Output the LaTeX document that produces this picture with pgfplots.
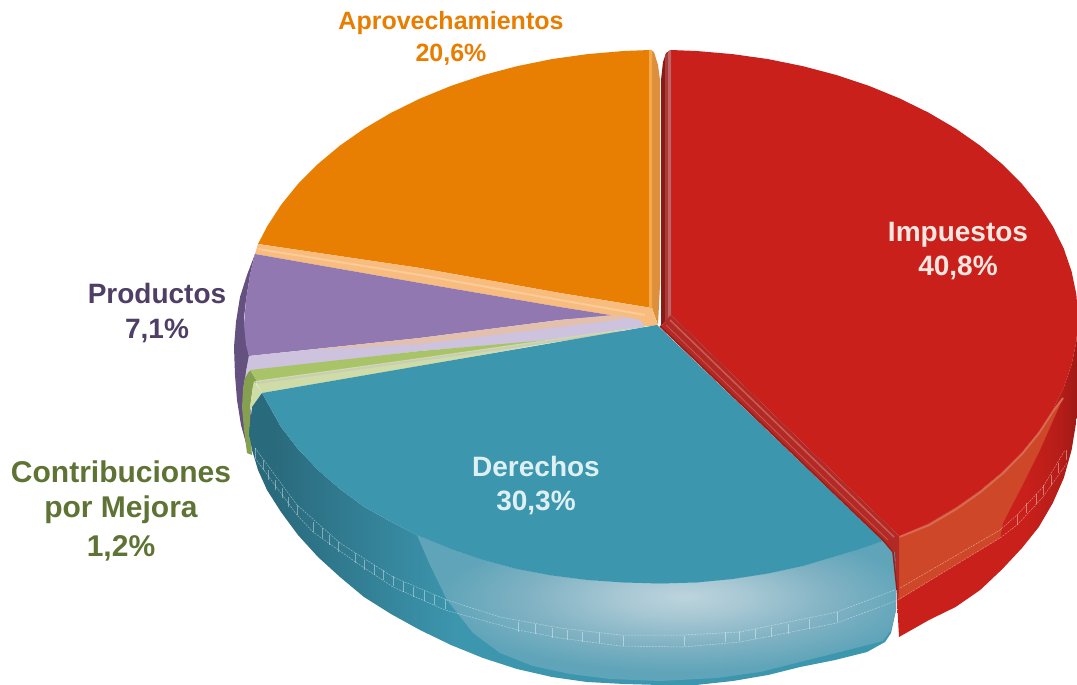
\documentclass[border=0pt]{standalone}
\usepackage{pgfplots}
\pgfplotsset{compat=1.18}
\usepackage{fontspec}
\setmainfont{Liberation Sans}
\definecolor{cRed}{HTML}{CA201B}
\definecolor{cRedSoft}{HTML}{CF4729}
\definecolor{cRedEdge}{HTML}{D86A50}
\definecolor{cRedDark}{HTML}{8A1A16}
\definecolor{cRedMid}{HTML}{A83A38}
\definecolor{cRedLite}{HTML}{C26262}
\definecolor{cRedCut}{HTML}{B22A26}
\definecolor{cRedCutL}{HTML}{CC5A55}
\definecolor{cOrange}{HTML}{E97F02}
\definecolor{cOrangeB}{HTML}{DD8F3C}
\definecolor{cOrangeL}{HTML}{F6A84A}
\definecolor{cPeach}{HTML}{F8BC7F}
\definecolor{cPeachL}{HTML}{FBCB98}
\definecolor{cPeachG}{HTML}{E3C0AE}
\definecolor{cTeal}{HTML}{3C96AE}
\definecolor{cTealD}{HTML}{2A6A7D}
\definecolor{cPurple}{HTML}{9278B0}
\definecolor{cPurpleD}{HTML}{65517F}
\definecolor{cLav}{HTML}{CDC3DF}
\definecolor{cGreen}{HTML}{A9C468}
\definecolor{cGreenD}{HTML}{85A04F}
\definecolor{cGreenP}{HTML}{CFDCA8}
\definecolor{cGray}{HTML}{C9CDB8}
\definecolor{tOrange}{HTML}{E87D00}
\definecolor{tRed}{HTML}{FBE6E0}
\definecolor{tPurple}{HTML}{4F3F66}
\definecolor{tGreen}{HTML}{5F7334}
\definecolor{tTeal}{HTML}{DFF0F5}
\pgfdeclarehorizontalshading{redside}{100bp}{color(0bp)=(cRed); color(60bp)=(cRed); color(70bp)=(cRed!90!black); color(75bp)=(cRed!78!black); color(100bp)=(cRed!78!black)}
\pgfdeclarehorizontalshading{tealside}{100bp}{color(0bp)=(cTealD); color(27bp)=(cTealD); color(41bp)=(cTeal); color(100bp)=(cTeal)}
\definecolor{g0}{HTML}{BDD4DE}
\definecolor{g1}{HTML}{A6C7D3}
\definecolor{g2}{HTML}{80B2C3}
\definecolor{g3}{HTML}{5FA4B9}
\pgfdeclareradialshading{tealglow}{\pgfpoint{3bp}{4bp}}{color(0bp)=(g0); color(7bp)=(g1); color(16bp)=(g2); color(25bp)=(g3); color(100bp)=(g3)}
\newcommand{\lab}[4]{\node[anchor=base,text=#3,font=\bfseries\fontsize{#4}{#4}\selectfont] at (axis cs:#1) {#2};}
\begin{document}
\begin{tikzpicture}
\begin{axis}[
  scale only axis, width=1077pt, height=685pt,
  xmin=0, xmax=1077, ymin=0, ymax=685, y dir=reverse,
  axis lines=none, clip=true]
% --- side walls ---
% red side
\addplot[draw=none, shading=redside] coordinates {(1076.4,294.6)(1078,318)(1076.4,341.4)(1071.6,364.5)(1063.8,387.4)(1052.8,409.7)(1038.8,431.3)(1022,452)(1002.4,471.7)(980.2,490.3)(955.6,507.5)(928.7,523.3)(899,535)(897,600)(899,637)(929,620)(955.6,607)(980.2,590)(1002.4,569)(1022,548)(1038.8,527)(1052.8,503)(1063.8,478)(1071.6,450)(1077,417)(1078,380)};
\addplot[draw=none, fill=cRedSoft] coordinates {(899,535)(928.7,523.3)(955.6,507.5)(980.2,490.3)(1002.4,471.7)(1022,452)(1038.8,431.3)(1052.8,409.7)(1063,398)(1040,450)(1020,490)(1003,523)(1000,538)(960,562)(898,600)};
\addplot[draw=cRedEdge, line width=2pt] coordinates {(899,537)(928.7,525.3)(955.6,509.5)(980.2,492.3)(1002.4,473.7)(1022,454)(1038.8,433.3)(1052.8,411.7)(1063,398)};
% purple side
\addplot[draw=none, fill=cPurpleD] coordinates {(255,254)(247,275)(240,297)(236,322)(234,347)(235,375)(237,400)(241,425)(247,447)(252,440)(250,400)(250,370)(249,356)(246,340)(244,318)(246,300)(250,275)};
\addplot[draw=none, fill=cLav] coordinates {(249,356)(246,372)(243,390)(245,385)(250,372)};
% green side
\addplot[draw=none, fill=cGreenD] coordinates {(250,370)(245,378)(243,390)(242,407)(244,430)(247,453)(252,455)(250,430)(250,407)(253,386)(257,381)};
\addplot[draw=none, fill=cGreenP] coordinates {(254,381)(262,393)(252,407)(250,409)(253,386)};
% teal side
\addplot[draw=none, shading=tealside] coordinates {(262,393)(252,407)(249,433)(252,450)(258,470)(267,490)(281,512)(298,535)(318,557)(340,577)(364,597)(391,614)(420,630)(451,645)(483,658)(517,669)(552,677)(587,682)(624,684)(660,685)(696,685)(733,681)(768,675)(800,667)(835,660)(867,652)(885,642)(891,633)(896,610)(897,575)(895,553)(883,541)(860,549)(836.7,556)(803,566)(768.2,573.5)(732.6,579)(696.4,582.5)(660,583.5)(623.6,582.5)(587.4,580)(551.8,575.5)(517,569)(483.3,560)(451,549)(417,535)(391.3,522)(364.4,507)(340,489)(318,470)(298,449)(281,427)(267,402)};
% highlight on the teal side
\addplot[draw=none, shading=tealglow] coordinates {(417,535)(451,549)(483.3,560)(517,569)(551.8,575.5)(587.4,580)(623.6,582.5)(660,583.5)(696.4,582.5)(732.6,579)(768.2,573.5)(803,566)(836.7,556)(860,549)(883,541)(892,552)(896,575)(896,610)(891,630)(883,641)(840,652)(800,662)(760,672)(717,678)(660,681)(610,679)(570,674)(533,666)(500,653)(473,633)(447,600)(430,565)};
% dashed guide lines on the wall
\addplot[draw=white, draw opacity=.45, line width=.5pt, dash pattern=on 2pt off 1pt] coordinates {(255,448)(297,505)(340,543)(393,577)(447,600)(500,617)(560,628)(620,635)(683,635)(740,632)(837,612)(900,588)(1000,530)(1017,515)(1043,487)(1065,450)};
\addplot[draw=white, draw opacity=.45, line width=.5pt, dash pattern=on 2pt off 1pt] coordinates {(255,458)(297,515)(313,532)(357,563)(393,587)(445,610)(518,630)(560,638)(620,646)(683,647)(740,642)(837,623)(898,600)(1000,538)(1017,525)(1043,497)(1067,463)};
\addplot[only marks, mark=|, mark size=5pt, mark options={draw=white, draw opacity=.4, line width=.5pt}] coordinates {(255,453)(263,465)(268,475)(275,485)(282,493)(288,502)(297,510)(313,527)(322,533)(329,540)(338,547)(355,558)(364,565)(374,570)(383,575)(393,581)(403,587)(413,592)(424,596)(434,600)(445,604)(518,627)(535,629)(552,633)(567,635)(582,637)(599,638)(623,641)(684,641)(725,637)(739,636)(755,634)(771,632)(788,629)(809,624)(837,617)(1017,520)(1026,508)(1036,499)(1043,490)(1051,480)(1058,468)(1066,455)};
% --- top faces ---
% orange
\addplot[draw=none, fill=cOrange] coordinates {(650,50)(623.6,51)(587.4,54.1)(551.8,59.1)(517,66.2)(483.3,75.1)(451,85.9)(420.2,98.5)(391.3,112.7)(364.4,128.5)(339.8,145.7)(317.6,164.3)(298,184)(281.2,204.7)(267.2,226.3)(258,244)(420,268)(560,293)(652,308)};
\addplot[draw=none, fill=cOrangeB] coordinates {(650,50)(654,52)(658,65)(660,80)(660,285)(658,325)(652,308)};
\addplot[draw=none, fill=cOrangeL] coordinates {(649,50)(652,50)(652,308)(649,307)};
\addplot[draw=none, fill=cPeach] coordinates {(258,244)(420,268)(560,293)(652,308)(658,326)(640,326)(610,315)(560,307)(420,283)(255,254)};
\addplot[draw=cPeachL, line width=2pt] coordinates {(258,249)(420,275)(560,300)(645,315)};
% purple
\addplot[draw=none, fill=cPurple] coordinates {(255,254)(250,275)(246,300)(244,325)(246,345)(249,356)(420,338)(560,320)(615,316)(610,315)(560,307)(420,283)};
% lavender
\addplot[draw=none, fill=cLav] coordinates {(249,356)(420,338)(560,320)(615,315)(640,320)(645,327)(560,340)(420,351)(250,371)(246,372)};
\addplot[draw=none, fill=cPeachG] coordinates {(310,350)(420,338)(560,320)(615,315)(625,319)(560,327)(420,344)};
% green
\addplot[draw=none, fill=cGreen] coordinates {(250,370)(420,351)(560,339)(645,326)(420,360)(257,381)};
\addplot[draw=none, fill=cGreenP] coordinates {(255,381)(420,358)(645,326)(420,366)(262,393)};
\addplot[draw=cGray, line width=2pt] coordinates {(257,383)(420,360)(620,332)};
% teal
\addplot[draw=none, fill=cTeal] coordinates {(657,325)(262,393)(267,402)(281,427)(298,449)(318,470)(340,489)(364.4,507)(391.3,522)(417,535)(451,549)(483.3,560)(517,569)(551.8,575.5)(587.4,580)(623.6,582.5)(660,583.5)(696.4,582.5)(732.6,579)(768.2,573.5)(803,566)(836.7,556)(860,549)(883,541)};
% red
\addplot[draw=none, fill=cRed] coordinates {(671,50)(696.4,51)(732.6,54.1)(768.2,59.1)(803,66.2)(836.7,75.1)(869,85.9)(899.8,98.5)(928.7,112.7)(955.6,128.5)(980.2,145.7)(1002.4,164.3)(1022,184)(1038.8,204.7)(1052.8,226.3)(1063.8,248.6)(1071.6,271.5)(1076.4,294.6)(1078,318)(1076.4,341.4)(1071.6,364.5)(1063.8,387.4)(1052.8,409.7)(1038.8,431.3)(1022,452)(1002.4,471.7)(980.2,490.3)(955.6,507.5)(928.7,523.3)(899,536)(671,315)};
% red bevels
\addplot[draw=none, fill=cRedDark] coordinates {(661,80)(663,62)(666,53)(671,50)(671,315)(661,326)};
\addplot[draw=none, fill=cRedMid] coordinates {(665,55)(671,50)(671,315)(665,322)};
\addplot[draw=none, fill=cRedLite] coordinates {(668,51)(671,50)(671,315)(668,318)};
\addplot[draw=none, fill=cRedCut] coordinates {(671,315)(899,536)(899,600)(896,575)(895,553)(883,541)(660,327)};
\addplot[draw=cRedCutL, line width=1.5pt] coordinates {(670,320)(894,537)};
\addplot[draw=cRedCutL, line width=.7pt] coordinates {(666,325)(888,540)};
\addplot[draw=cRedDark!70!cRed, line width=1.5pt] coordinates {(660,326)(883,540)(893,552)(897,590)};
% --- labels ---
\lab{451,30}{Aprovechamientos}{tOrange}{25}
\lab{451,62}{20,6\%}{tOrange}{25}
\lab{958,241}{Impuestos}{tRed}{28}
\lab{958,275}{40,8\%}{tRed}{28}
\lab{157,303}{Productos}{tPurple}{28}
\lab{157,338}{7,1\%}{tPurple}{28}
\lab{121,482}{Contribuciones}{tGreen}{30}
\lab{121,517}{por Mejora}{tGreen}{30}
\lab{121,556}{1,2\%}{tGreen}{30}
\lab{536,476}{Derechos}{tTeal}{28}
\lab{536,510}{30,3\%}{tTeal}{28}
\end{axis}
\pgfresetboundingbox
\path[use as bounding box] (current axis.south west) rectangle (current axis.north east);
\end{tikzpicture}
\end{document}
